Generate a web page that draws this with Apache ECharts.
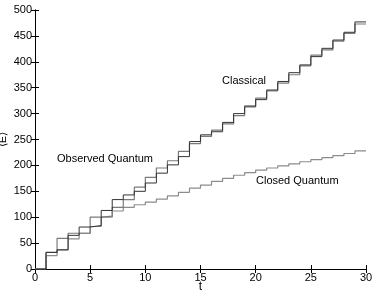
<!DOCTYPE html>
<html>
<head>
<meta charset="utf-8">
<script src="https://cdn.jsdelivr.net/npm/echarts@6/dist/echarts.min.js"></script>
<style>html,body{margin:0;padding:0;background:#fff}#c{width:374px;height:296px}</style>
</head>
<body>
<div id="c"></div>
<script>
// values held over each interval [k, k+1), k = 0..29
const classical = [0, 32, 37, 65, 81, 84, 113, 134, 143, 150, 166, 185, 201, 217, 246, 259, 265, 283, 300, 313, 327, 344, 362, 379, 394, 410, 426, 442, 457, 477];
const observedQuantum = [0, 32, 59, 69, 69, 100, 102, 119, 134, 158, 177, 195, 209, 227, 242, 256, 268, 280, 296, 315, 330, 346, 359, 375, 392, 413, 423, 440, 455, 473];
const closedQuantum = [0, 26, 37, 58, 69, 82, 100, 112, 119, 124, 129, 135, 141, 148, 156, 162, 169, 175, 181, 186, 191, 195, 199, 203, 207, 211, 215, 219, 223, 228];
const labels = ["Classical", "Observed Quantum", "Closed Quantum"];

function toPts(arr) {
  const p = arr.map((v, k) => [k, v]);
  p.push([arr.length, arr[arr.length - 1]]);
  return p;
}
const font = 'Liberation Sans, Arial, sans-serif';
const chart = echarts.init(document.getElementById('c'), null, {renderer: 'canvas'});
const axLine = {show: true, lineStyle: {color: '#000', width: 1}};
const tick = {show: true, inside: true, length: 4, lineStyle: {color: '#000'}};
chart.setOption({
  animation: false,
  backgroundColor: '#fff',
  grid: {left: 35, right: 8, top: 10, bottom: 27, containLabel: false, outerBoundsMode: 'none'},
  xAxis: [{
    type: 'value', min: 0, max: 30, interval: 5,
    name: 't', nameLocation: 'middle', nameGap: 12, nameMoveOverlap: false,
    nameTextStyle: {fontFamily: font, fontSize: 12, color: '#000'},
    axisLine: axLine, axisTick: tick, splitLine: {show: false},
    axisLabel: {fontFamily: font, fontSize: 11, color: '#000', margin: 3}
  }, {
    type: 'value', min: 0, max: 30, interval: 5, position: 'top',
    axisLine: axLine, axisTick: tick, splitLine: {show: false}, axisLabel: {show: false}
  }],
  yAxis: [{
    type: 'value', min: 0, max: 500, interval: 50,
    name: '\u27E8E\u27E9', nameLocation: 'middle', nameGap: 27, nameRotate: 90, nameMoveOverlap: false,
    nameTextStyle: {fontFamily: font, fontSize: 11, color: '#000'},
    axisLine: axLine, axisTick: tick, splitLine: {show: false},
    axisLabel: {fontFamily: font, fontSize: 11, color: '#000', margin: 3}
  }, {
    type: 'value', min: 0, max: 500, interval: 50, position: 'right',
    axisLine: axLine, axisTick: tick, splitLine: {show: false}, axisLabel: {show: false}
  }],
  series: [
    {name: labels[2], type: 'line', step: 'end', data: toPts(closedQuantum), showSymbol: false,
     lineStyle: {color: '#8c8c8c', width: 1.2}},
    {name: labels[1], type: 'line', step: 'end', data: toPts(observedQuantum), showSymbol: false,
     lineStyle: {color: '#7a7a7a', width: 1.2}},
    {name: labels[0], type: 'line', step: 'end', data: toPts(classical), showSymbol: false,
     lineStyle: {color: '#333', width: 1}}
  ],
  graphic: [
    {type: 'text', left: 222, top: 75, style: {text: labels[0], font: '11px ' + font, fill: '#000'}},
    {type: 'text', left: 57, top: 153, style: {text: labels[1], font: '11px ' + font, fill: '#000'}},
    {type: 'text', left: 256, top: 175, style: {text: labels[2], font: '11px ' + font, fill: '#000'}}
  ]
});
</script>
</body>
</html>
